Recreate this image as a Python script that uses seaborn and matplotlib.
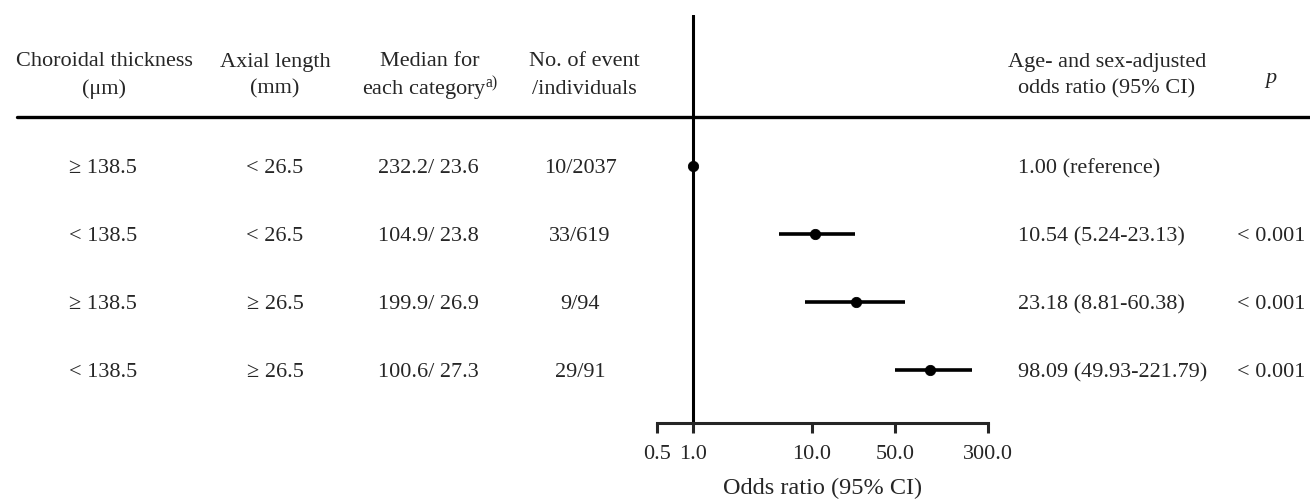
import matplotlib
matplotlib.use("Agg")
import matplotlib.pyplot as plt
import matplotlib.transforms as mtransforms
from matplotlib.lines import Line2D
import numpy as np
import pandas as pd
import seaborn as sns

# table columns
choroid = ["\u2265 138.5", "< 138.5", "\u2265 138.5", "< 138.5"]
axial = ["< 26.5", "< 26.5", "\u2265 26.5", "\u2265 26.5"]
medians = ["232.2/ 23.6", "104.9/ 23.8", "199.9/ 26.9", "100.6/ 27.3"]
events = ["10/2037", "33/619", "9/94", "29/91"]

# odds ratios with 95% CI (first row is the reference group)
odds = [1.00, 10.54, 23.18, 98.09]
ci_low = [np.nan, 5.24, 8.81, 49.93]
ci_high = [np.nan, 23.13, 60.38, 221.79]
p_values = ["", "< 0.001", "< 0.001", "< 0.001"]

tick_vals = [0.5, 1.0, 10.0, 50.0, 300.0]
tick_labels = ["0.5", "1.0", "10.0", "50.0", "300.0"]

df = pd.DataFrame({"row": range(len(odds)), "odds": odds,
                   "lo": ci_low, "hi": ci_high})

sns.set_style("ticks")
plt.rcParams["font.family"] = ["Liberation Serif", "DejaVu Serif"]
plt.rcParams["mathtext.fontset"] = "custom"
plt.rcParams["mathtext.rm"] = "Liberation Serif"
plt.rcParams["mathtext.it"] = "Liberation Serif:italic"

W, H = 1310, 504
fig = plt.figure(figsize=(W / 100, H / 100), dpi=100)
ax = fig.add_axes([657 / W, 1 - 423 / H, (988 - 657) / W, (423 - 15) / H])

ci = df.dropna()
ax.hlines(ci["row"], ci["lo"], ci["hi"], color="black", lw=2.6, zorder=2)
sns.scatterplot(data=df, x="odds", y="row", ax=ax, color="black", s=55,
                edgecolor="black", zorder=3, legend=False)
ax.axvline(1.0, color="black", lw=2.2, zorder=1)

ax.set_xscale("log")
ax.set_xlim(0.5, 300)
ax.set_ylim(3.78, -2.22)
ax.set_xticks(tick_vals)
ax.set_xticklabels(tick_labels, fontsize=16)
ax.minorticks_off()
ax.set_yticks([])
ax.set_ylabel("")
for side in ["top", "right", "left"]:
    ax.spines[side].set_visible(False)
ax.spines["bottom"].set_linewidth(2.2)
ax.tick_params(axis="x", direction="out", length=7, width=2.2, pad=9)
ax.set_xlabel("Odds ratio (95% CI)", fontsize=17.5, labelpad=10)

# header
fs = 16
hdr1, hdr2 = 1 - 62 / H, 1 - 89 / H
fig.text(104 / W, hdr1, "Choroidal thickness", ha="center", va="center", fontsize=fs)
fig.text(104 / W, hdr2, "(\u03bcm)", ha="center", va="center", fontsize=fs)
fig.text(275 / W, hdr1, "Axial length", ha="center", va="center", fontsize=fs)
fig.text(275 / W, hdr2, "(mm)", ha="center", va="center", fontsize=fs)
fig.text(430 / W, hdr1, "Median for", ha="center", va="center", fontsize=fs)
fig.text(430 / W, hdr2, "each category$^{\\rm a)}$", ha="center", va="center", fontsize=fs)
fig.text(584 / W, hdr1, "No. of event", ha="center", va="center", fontsize=fs)
fig.text(584 / W, hdr2, "/individuals", ha="center", va="center", fontsize=fs)
fig.text(1107 / W, hdr1, "Age- and sex-adjusted", ha="center", va="center", fontsize=fs)
fig.text(1107 / W, hdr2, "odds ratio (95% CI)", ha="center", va="center", fontsize=fs)
fig.text(1271 / W, 1 - 78 / H, "p", ha="center", va="center", fontsize=fs, style="italic")
fig.add_artist(Line2D([17 / W, 1.0], [1 - 117 / H, 1 - 117 / H],
                      transform=fig.transFigure, color="black", lw=2.4))

# table rows, placed on the forest plot's own row scale
trans = mtransforms.blended_transform_factory(fig.transFigure, ax.transData)
for i in range(len(odds)):
    if np.isnan(ci_low[i]):
        or_txt = f"{odds[i]:.2f} (reference)"
    else:
        or_txt = f"{odds[i]:.2f} ({ci_low[i]:.2f}-{ci_high[i]:.2f})"
    kw = dict(transform=trans, va="center_baseline", fontsize=fs)
    fig.text(103 / W, i, choroid[i], ha="center", **kw)
    fig.text(275 / W, i, axial[i], ha="center", **kw)
    fig.text(428 / W, i, medians[i], ha="center", **kw)
    fig.text(580 / W, i, events[i], ha="center", **kw)
    fig.text(1018 / W, i, or_txt, ha="left", **kw)
    fig.text(1271 / W, i, p_values[i], ha="center", **kw)

fig.savefig("out.png", dpi=100)
